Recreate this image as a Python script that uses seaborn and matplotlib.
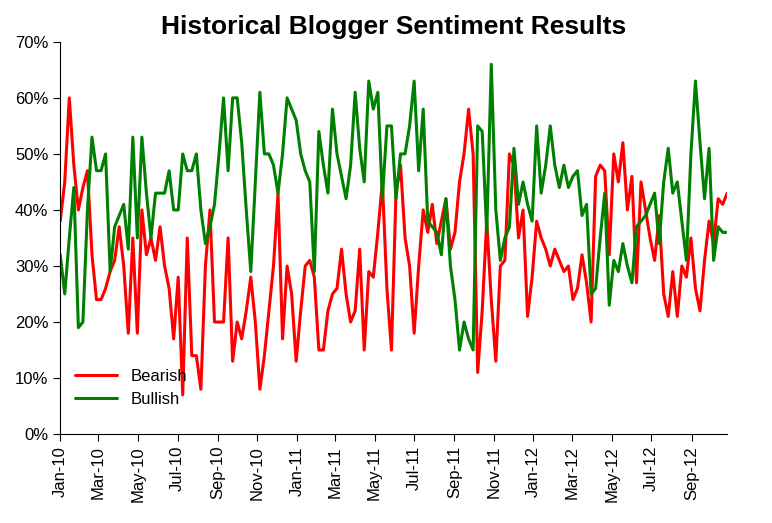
import numpy as np
import pandas as pd
import matplotlib
matplotlib.use("Agg")
import matplotlib.pyplot as plt
import matplotlib.dates as mdates
import seaborn as sns

# Weekly sentiment readings (%), starting first week of Jan 2010
bearish = [38, 45, 60, 48, 40, 44, 47, 32, 24, 24, 26, 29, 31, 37, 30, 18, 35, 18, 40, 32,
           35, 31, 37, 30, 26, 17, 28, 7, 35, 14, 14, 8, 30, 40, 20, 20, 20, 35, 13, 20,
           17, 22, 28, 20, 8, 14, 22, 30, 43, 17, 30, 25, 13, 22, 30, 31, 28, 15, 15, 22,
           25, 26, 33, 25, 20, 22, 33, 15, 29, 28, 36, 45, 26, 15, 43, 48, 35, 30, 18, 30,
           40, 36, 41, 34, 38, 42, 33, 36, 45, 50, 58, 50, 11, 22, 38, 24, 13, 30, 31, 50,
           48, 35, 40, 21, 28, 38, 35, 33, 30, 33, 31, 29, 30, 24, 26, 32, 27, 20, 46, 48,
           47, 32, 50, 45, 52, 40, 46, 27, 45, 40, 35, 31, 39, 25, 21, 29, 21, 30, 28, 35,
           26, 22, 31, 38, 34, 42, 41, 43]
bullish = [32, 25, 35, 44, 19, 20, 40, 53, 47, 47, 50, 29, 37, 39, 41, 33, 53, 35, 53, 43,
           35, 43, 43, 43, 47, 40, 40, 50, 47, 47, 50, 40, 34, 37, 41, 50, 60, 47, 60, 60,
           52, 40, 29, 45, 61, 50, 50, 48, 43, 50, 60, 58, 56, 50, 47, 45, 29, 54, 48, 43,
           58, 50, 46, 42, 48, 61, 51, 45, 63, 58, 61, 42, 55, 55, 42, 50, 50, 55, 63, 47,
           58, 38, 37, 36, 32, 42, 30, 24, 15, 20, 17, 15, 55, 54, 36, 66, 40, 31, 35, 37,
           51, 41, 45, 41, 38, 55, 43, 48, 55, 48, 44, 48, 44, 46, 47, 39, 41, 25, 26, 35,
           43, 23, 31, 29, 34, 30, 27, 37, 38, 39, 41, 43, 34, 45, 51, 43, 45, 38, 31, 50,
           63, 52, 42, 51, 31, 37, 36, 36]

dates = pd.date_range("2010-01-01", periods=len(bearish), freq="7D")
df = pd.DataFrame({"date": dates, "Bearish": np.array(bearish) / 100,
                   "Bullish": np.array(bullish) / 100})
long = df.melt(id_vars="date", var_name="Sentiment", value_name="share")

sns.set_style("white")
fig = plt.figure(figsize=(7.72, 5.23), dpi=100)
ax = fig.add_axes([0.078, 0.170, 0.864, 0.750])

sns.lineplot(data=long, x="date", y="share", hue="Sentiment",
             palette={"Bearish": "#FF0000", "Bullish": "#008000"},
             linewidth=2.2, ax=ax)

ax.set_xlim(dates[0], dates[-1])
ax.set_ylim(0, 0.70)
ax.set_yticks(np.arange(0, 0.71, 0.10))
ax.yaxis.set_major_formatter(matplotlib.ticker.PercentFormatter(1.0, decimals=0))
ax.xaxis.set_major_locator(mdates.MonthLocator(bymonth=[1, 3, 5, 7, 9, 11]))
ax.xaxis.set_major_formatter(mdates.DateFormatter("%b-%y"))
ax.tick_params(axis="x", rotation=90, labelsize=12, length=5, direction="out",
               colors="black")
ax.tick_params(axis="y", labelsize=12, length=5, direction="out", colors="black")
ax.tick_params(bottom=True, left=True)
for lab in ax.get_xticklabels() + ax.get_yticklabels():
    lab.set_fontfamily("Liberation Sans")
ax.set_xlabel("")
ax.set_ylabel("")
for s in ["top", "right"]:
    ax.spines[s].set_visible(False)
for s in ["left", "bottom"]:
    ax.spines[s].set_color("black")

leg = ax.legend(loc="lower left", frameon=False, bbox_to_anchor=(0.0, 0.03),
                prop={"family": "Liberation Sans", "size": 12}, handlelength=2.5)
for t in leg.get_texts():
    t.set_color("black")
ax.set_title("Historical Blogger Sentiment Results", fontsize=19, fontweight="bold",
             fontfamily="Liberation Sans", color="black", pad=6)

fig.savefig("out.png", dpi=100)
